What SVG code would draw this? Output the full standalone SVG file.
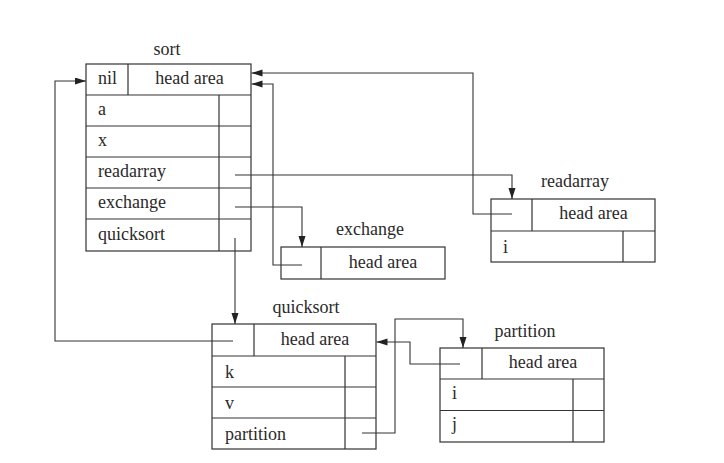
<svg xmlns="http://www.w3.org/2000/svg" width="724" height="463" viewBox="0 0 724 463">
<style>
  .box { fill: none; stroke: #333; stroke-width: 1.2; }
  .ln { fill: none; stroke: #333; stroke-width: 1.1; }
  text { font-family: "Liberation Serif", "Times New Roman", serif; font-size: 18px; fill: #2a2a2a; }
  .c { text-anchor: middle; }
</style>
<defs>
  <marker id="ah" markerUnits="userSpaceOnUse" markerWidth="12" markerHeight="8" refX="11" refY="3.5" orient="auto">
    <path d="M0,0 L11,3.5 L0,7 z" fill="#222"/>
  </marker>
</defs>
<rect width="724" height="463" fill="#fff"/>

<g id="sort">
  <text class="c" x="167" y="55">sort</text>
  <rect class="box" x="86" y="64" width="165" height="187"/>
  <path class="box" d="M128,64 V95 M86,95 H251 M86,126 H251 M86,157 H251 M86,188 H251 M86,219 H251 M219,95 V251"/>
  <text x="98" y="84">nil</text>
  <text class="c" x="189.5" y="84">head area</text>
  <text x="98" y="115">a</text>
  <text x="98" y="146">x</text>
  <text x="98" y="177">readarray</text>
  <text x="98" y="208">exchange</text>
  <text x="98" y="240">quicksort</text>
</g>

<g id="exchange">
  <text class="c" x="370" y="235">exchange</text>
  <rect class="box" x="281" y="247" width="164" height="32"/>
  <path class="box" d="M321,247 V279"/>
  <text class="c" x="383" y="268">head area</text>
</g>

<g id="readarray">
  <text class="c" x="575" y="187">readarray</text>
  <rect class="box" x="491" y="199" width="164" height="63"/>
  <path class="box" d="M532,199 V231 M491,231 H655 M623,231 V262"/>
  <text class="c" x="593.5" y="219">head area</text>
  <text x="503" y="253">i</text>
</g>

<g id="quicksort">
  <text class="c" x="306" y="313">quicksort</text>
  <rect class="box" x="212" y="324" width="164" height="125"/>
  <path class="box" d="M254,324 V356 M212,356 H376 M212,387 H376 M212,418 H376 M345,356 V449"/>
  <text class="c" x="315" y="345">head area</text>
  <text x="225" y="378">k</text>
  <text x="225" y="409">v</text>
  <text x="225" y="440">partition</text>
</g>

<g id="partition">
  <text class="c" x="525" y="337">partition</text>
  <rect class="box" x="440" y="348" width="164" height="94"/>
  <path class="box" d="M482,348 V379 M440,379 H604 M440,410.5 H604 M573,379 V442"/>
  <text class="c" x="543" y="368">head area</text>
  <text x="452" y="399">i</text>
  <text x="452" y="430">j</text>
</g>

<g id="connectors">
  <path class="ln" d="M512,214 H473 V73 H251.5" marker-end="url(#ah)"/>
  <path class="ln" d="M302,265 H273 V84 H251.5" marker-end="url(#ah)"/>
  <path class="ln" d="M235,175 H512 V199" marker-end="url(#ah)"/>
  <path class="ln" d="M235,207 H302 V247" marker-end="url(#ah)"/>
  <path class="ln" d="M235,238 V324" marker-end="url(#ah)"/>
  <path class="ln" d="M233,341 H55 V81 H86" marker-end="url(#ah)"/>
  <path class="ln" d="M362,433 H395 V319 H463 V348" marker-end="url(#ah)"/>
  <path class="ln" d="M460,364 H410 V342 H376.5" marker-end="url(#ah)"/>
</g>
</svg>
